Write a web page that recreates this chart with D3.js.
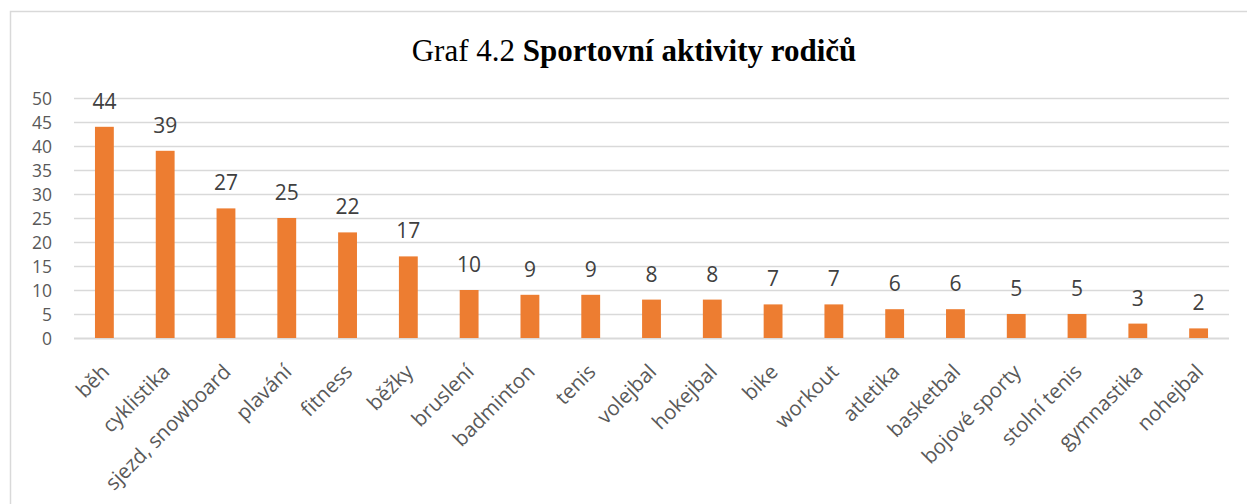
<!DOCTYPE html>
<html>
<head>
<meta charset="utf-8">
<script src="https://cdn.jsdelivr.net/npm/d3@7"></script>
<style>
  html, body { margin: 0; padding: 0; background: #fff; overflow: hidden; }
  svg { display: block; }
</style>
</head>
<body>
<div id="chart"></div>
<script>
// data
var categories = ['běh', 'cyklistika', 'sjezd, snowboard', 'plavání', 'fitness', 'běžky', 'bruslení',
	'badminton', 'tenis', 'volejbal', 'hokejbal', 'bike', 'workout', 'atletika', 'basketbal',
	'bojové sporty', 'stolní tenis', 'gymnastika', 'nohejbal'];
var values = [44, 39, 27, 25, 22, 17, 10, 9, 9, 8, 8, 7, 7, 6, 6, 5, 5, 3, 2];
var yTicks = [0, 5, 10, 15, 20, 25, 30, 35, 40, 45, 50];
var titlePlain = 'Graf 4.2 ';
var titleBold = 'Sportovní aktivity rodičů';

var W = 1247, H = 504,
	margin = {left: 74, right: 18, top: 98, bottom: 166},
	orange = '#ed7d31', grid = '#d9d9d9', textCol = '#595959',
	font = '"Open Sans", "Noto Sans", sans-serif';

var svg = d3.select('#chart').append('svg').attr('width', W).attr('height', H);

// chart area frame (runs off the right / bottom of the crop)
svg.append('rect')
	.attr('x', 10.5).attr('y', 11.5)
	.attr('width', W + 20).attr('height', H + 20)
	.style('fill', 'none').style('stroke', grid).style('stroke-width', 1.5);

var x = d3.scaleBand().domain(categories).range([margin.left, W - margin.right]).paddingInner(0.69).paddingOuter(0.345);
var y = d3.scaleLinear().domain([0, 50]).range([H - margin.bottom, margin.top]);

var title = svg.append('text')
	.attr('x', 634).attr('y', 61)
	.attr('text-anchor', 'middle')
	.style('font-family', '"Liberation Serif", "DejaVu Serif", serif')
	.style('font-size', '31px')
	.style('fill', '#000');
title.append('tspan').text(titlePlain);
title.append('tspan').style('font-weight', 'bold').text(titleBold);

// y tick labels
var yAxis = d3.axisLeft(y).tickValues(yTicks).tickSize(0).tickPadding(0);
var gy = svg.append('g').attr('transform', 'translate(52,0)').call(yAxis);
gy.select('.domain').remove();
gy.selectAll('text').style('font-family', font).style('font-size', '17.5px').style('fill', textCol).attr('dy', '0.36em');

// gridlines
svg.append('g').selectAll('line').data(yTicks).enter().append('line')
	.attr('x1', margin.left).attr('x2', W - margin.right)
	.attr('y1', function (d) { return Math.round(y(d)) + 0.5; })
	.attr('y2', function (d) { return Math.round(y(d)) + 0.5; })
	.style('stroke', grid).style('stroke-width', function (d) { return d === 0 ? 2 : 1.5; });

// bars
svg.append('g').selectAll('rect').data(values).enter().append('rect')
	.attr('x', function (d, i) { return x(categories[i]); })
	.attr('y', function (d) { return y(d); })
	.attr('width', x.bandwidth())
	.attr('height', function (d) { return y(0) - y(d); })
	.style('fill', orange);

// value labels
svg.append('g').selectAll('text').data(values).enter().append('text')
	.attr('x', function (d, i) { return x(categories[i]) + x.bandwidth() / 2; })
	.attr('y', function (d) { return y(d) - 18; })
	.attr('text-anchor', 'middle')
	.style('font-family', font).style('font-size', '21px').style('fill', '#404040')
	.text(function (d) { return d; });

// category labels, rotated
var xAxis = d3.axisBottom(x).tickSize(0).tickPadding(0);
var gx = svg.append('g').attr('transform', 'translate(0,' + y(0) + ')').call(xAxis);
gx.select('.domain').remove();
gx.selectAll('text')
	.style('font-family', font).style('font-size', '20.5px').style('fill', textCol)
	.attr('text-anchor', 'end')
	.attr('transform', 'translate(-4,25) rotate(-45)')
	.attr('dy', '0.7em');
</script>
</body>
</html>
